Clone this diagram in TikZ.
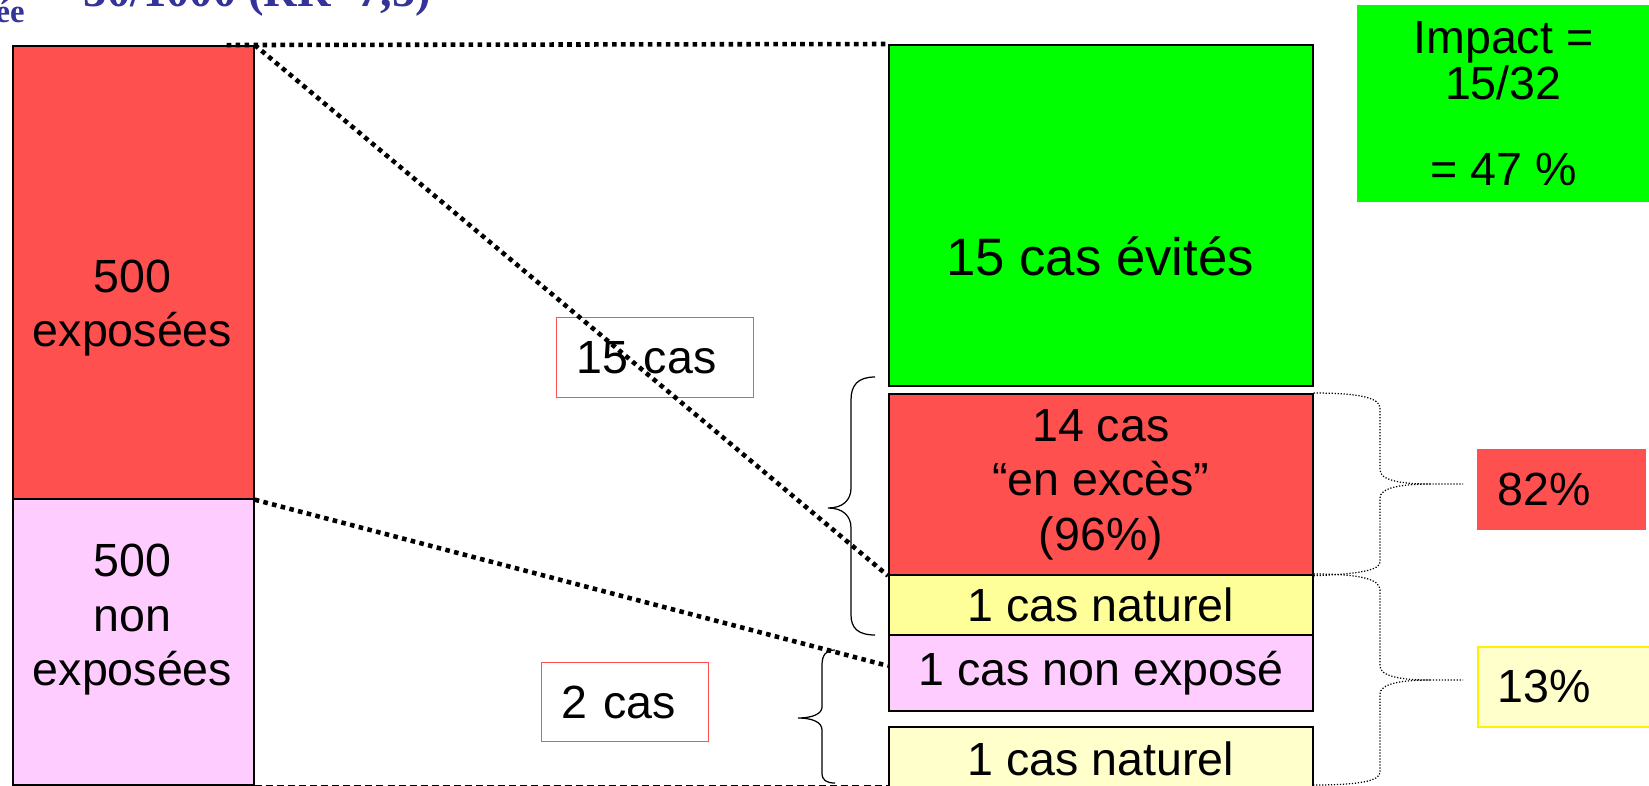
\documentclass[tikz,border=0pt]{standalone}
\usepackage{fontspec}
\setmainfont{Liberation Sans}
\newfontfamily\titlefont{Liberation Serif}
\usepackage{tikz}

\definecolor{expored}{RGB}{255,80,80}
\definecolor{evitgreen}{RGB}{0,255,0}
\definecolor{natyellow}{RGB}{255,255,153}
\definecolor{paleyellow}{RGB}{255,255,204}
\definecolor{nonpink}{RGB}{255,204,255}
\definecolor{titleblue}{RGB}{51,51,153}

\begin{document}
\begin{tikzpicture}[x=0.02cm, y=-0.02cm,
		casebox/.style = {draw, line width=1pt, anchor=north west, inner sep=0pt, align=center, font=\fontsize{26.5}{31}\selectfont},
		casetxt/.style = {inner sep=0pt, align=center, font=\fontsize{26.5}{31}\selectfont},
		pctbox/.style = {anchor=north west, inner xsep=0.4cm, inner ysep=0pt, align=left, font=\fontsize{26.5}{31}\selectfont},
		bigdots/.style = {line width=2.6pt, dash pattern=on 2.6pt off 2.5pt},
		thindots/.style = {line width=0.7pt, dash pattern=on 0.7pt off 1pt},
		bracket/.style = {line width=0.7pt}]
		\useasboundingbox (0,0) rectangle (1649,785);
		\clip (0,0) rectangle (1649,785);
		\node[anchor=base east, inner sep=0pt, text=titleblue, font=\titlefont\bfseries\fontsize{18.6}{20}\selectfont] (sub) at (25,22) {ée};
		\node[anchor=base west, inner sep=0pt, text=titleblue, font=\titlefont\bfseries\fontsize{26.5}{30}\selectfont] (rr) at (57,6) {\textcolor{black}{=}30/1000 (RR=7,5)};
		\node[casebox, fill=expored, minimum width=4.82cm, minimum height=9.06cm] (expo) at (12,45) {};
		\node[casetxt] (expotxt) at (132.5,308) {500\\exposées};
		\node[casebox, fill=nonpink, minimum width=4.82cm, minimum height=5.72cm] (nonexpo) at (12,498) {};
		\node[casetxt] (nonexpotxt) at (132.5,620) {500\\non\\exposées};
		\node[casebox, fill=evitgreen, minimum width=8.48cm, minimum height=6.82cm] (evites) at (888,44) {};
		\node[casetxt, font=\fontsize{30}{34}\selectfont] (evitestxt) at (1100,256) {15 cas évités};
		\node[casebox, fill=expored, minimum width=8.48cm, minimum height=3.62cm] (exces) at (888,393) {14 cas\\“en excès”\\(96\%)};
		\node[casebox, fill=natyellow, minimum width=8.48cm, minimum height=1.2cm] (natur1) at (888,574) {1 cas naturel};
		\node[casebox, fill=nonpink, minimum width=8.48cm, minimum height=1.52cm] (nonexp) at (888,634) {1 cas non exposé};
		\node[casebox, fill=paleyellow, minimum width=8.48cm, minimum height=1.28cm] (natur2) at (888,726) {1 cas naturel};
		\node[anchor=north west, fill=evitgreen, minimum width=5.84cm, minimum height=3.94cm, inner sep=0pt, align=center, font=\fontsize{26.5}{26}\selectfont] (impact) at (1357,5) {Impact =\\15/32\\[0.82cm]= 47 \%};
		\node[pctbox, fill=expored, text width=2.58cm, minimum height=1.62cm] (pct82) at (1477,449) {82\%};
		\node[pctbox, draw=yellow, line width=1pt, fill=paleyellow, text width=2.7cm, minimum height=1.6cm] (pct13) at (1477,646) {13\%};
		\node[pctbox, draw=expored, line width=0.8pt, text width=3.14cm, minimum height=1.6cm] (cas15) at (556,317) {15 cas};
		\node[pctbox, draw=expored, line width=0.8pt, text width=2.54cm, minimum height=1.58cm] (cas2) at (541,662) {2 cas};
		\draw[bigdots, shorten <=-0.56cm] (expo.north east) -- (evites.north west);
		\draw[bigdots] (expo.north east) -- (exces.south west);
		\draw[bigdots] (expo.south east) -- ([yshift=0.14cm]nonexp.west);
		\draw[line width=1.1pt, dash pattern=on 4pt off 2.3pt] (nonexpo.south east) -- (nonexpo.south east -| natur2.west);
		\draw[bracket] (875,377) .. controls (858,377) and (851,385) .. (851,400) -- (851,488) .. controls (851,500) and (843,508) .. (828,508) .. controls (843,508) and (851,516) .. (851,528) -- (851,615) .. controls (851,628) and (858,635) .. (875,635);
		\draw[bracket] (835,650) .. controls (826,650) and (822,655) .. (822,665) -- (822,707) .. controls (822,714) and (812,718) .. (798,718) .. controls (812,718) and (822,722) .. (822,730) -- (822,773) .. controls (822,780) and (826,783) .. (835,783);
		\draw[thindots] (exces.north east) .. controls (1360,393) and (1380,398) .. (1380,408) -- (1380,470) .. controls (1380,480) and (1400,484) .. (1430,484) -- (1463,484) (1430,484) .. controls (1400,484) and (1380,488) .. (1380,498) -- (1380,562) .. controls (1380,570) and (1360,574) .. (exces.south east);
		\draw[thindots] (natur1.north east) .. controls (1360,574) and (1380,579) .. (1380,590) -- (1380,666) .. controls (1380,676) and (1400,680) .. (1430,680) -- (1463,680) (1430,680) .. controls (1400,680) and (1380,684) .. (1380,694) -- (1380,772) .. controls (1380,781) and (1360,785) .. (1312,785);
	\end{tikzpicture}
\end{document}
